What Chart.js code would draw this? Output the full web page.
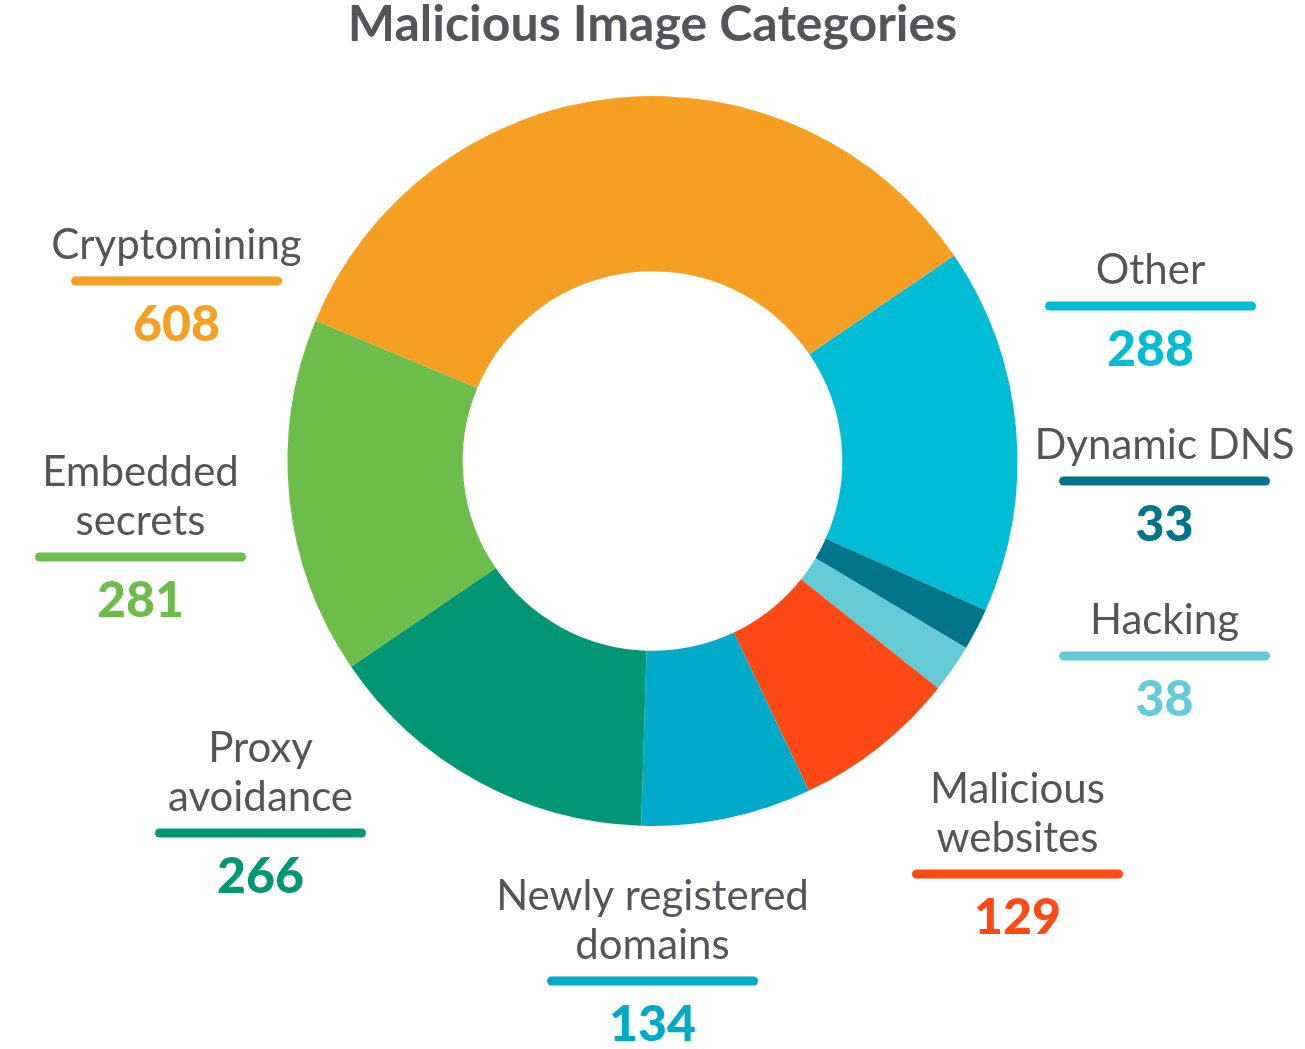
<!DOCTYPE html>
<html>
<head>
<meta charset="utf-8">
<title>Malicious Image Categories</title>
<script src="https://cdn.jsdelivr.net/npm/chart.js@4/dist/chart.umd.min.js"></script>
<style>
    html, body { margin: 0; padding: 0; background: #fff; }
    #wrap { width: 1305px; height: 1049px; position: relative; }
</style>
</head>
<body>
<div id="wrap"><canvas id="donut"></canvas></div>
<script>
// --- Chart data ---
const categories = [
    ['Cryptomining'],
    ['Other'],
    ['Dynamic DNS'],
    ['Hacking'],
    ['Malicious', 'websites'],
    ['Newly registered', 'domains'],
    ['Proxy', 'avoidance'],
    ['Embedded', 'secrets']
];
const imageCounts = [608, 288, 33, 38, 129, 134, 266, 281];
const sliceColors = ['#f79f22', '#00bcd4', '#00758a', '#64cad8', '#ff4914', '#00aac8', '#029774', '#6dbd4b'];

// Where each callout's underline sits, relative to the donut centre (px)
const calloutOffsets = [
    { dx: -476, dy: -180 },
    { dx: 498, dy: -155 },
    { dx: 512, dy: 20 },
    { dx: 512, dy: 195 },
    { dx: 365, dy: 413 },
    { dx: 0, dy: 520 },
    { dx: -392, dy: 372 },
    { dx: -512, dy: 96 }
];

const TEXT_GREY = '#545559';

/**
 * Draws the label / underline / value callouts around the donut.
 */
const calloutPlugin = {
    id: 'callouts',
    afterDraw(chart) {
        const ctx = chart.ctx;
        const arc = chart.getDatasetMeta(0).data[0];
        const cx = arc.x;
        const cy = arc.y;

        ctx.save();
        ctx.textAlign = 'center';
        ctx.textBaseline = 'alphabetic';

        chart.data.labels.forEach((lines, i) => {
            const pos = calloutOffsets[i];
            const x = cx + pos.dx;
            const y = cy + pos.dy;
            const color = chart.data.datasets[0].backgroundColor[i];

            // label text, last line sits just above the underline
            ctx.fillStyle = TEXT_GREY;
            ctx.font = '42px Lato, "Open Sans", sans-serif';
            lines.forEach((line, j) => {
                const lineY = y - 22 - (lines.length - 1 - j) * 49;
                ctx.fillText(line, x, lineY);
            });

            // rounded underline
            ctx.strokeStyle = color;
            ctx.lineWidth = 9;
            ctx.lineCap = 'round';
            ctx.beginPath();
            ctx.moveTo(x - 101, y);
            ctx.lineTo(x + 101, y);
            ctx.stroke();

            // value
            ctx.fillStyle = color;
            ctx.font = '900 50px Lato, "Open Sans", sans-serif';
            ctx.fillText(String(chart.data.datasets[0].data[i]), x, y + 60);
        });

        ctx.restore();
    }
};

document.addEventListener('DOMContentLoaded', () => {
    const ctx = document.getElementById('donut').getContext('2d');

    new Chart(ctx, {
        type: 'doughnut',
        data: {
            labels: categories,
            datasets: [{
                data: imageCounts,
                backgroundColor: sliceColors,
                borderWidth: 0,
                hoverOffset: 0
            }]
        },
        options: {
            responsive: true,
            maintainAspectRatio: false,
            animation: false,
            rotation: -67.4,
            cutout: '52%',
            layout: {
                padding: { top: 0, bottom: 223, left: 0, right: 0 }
            },
            plugins: {
                legend: { display: false },
                tooltip: { enabled: false },
                title: {
                    display: true,
                    text: 'Malicious Image Categories',
                    color: TEXT_GREY,
                    font: { family: 'Lato', size: 50, weight: 'bold', lineHeight: 1.0 },
                    padding: { top: 0, bottom: 46 }
                }
            }
        },
        plugins: [calloutPlugin]
    });
});
</script>
</body>
</html>
